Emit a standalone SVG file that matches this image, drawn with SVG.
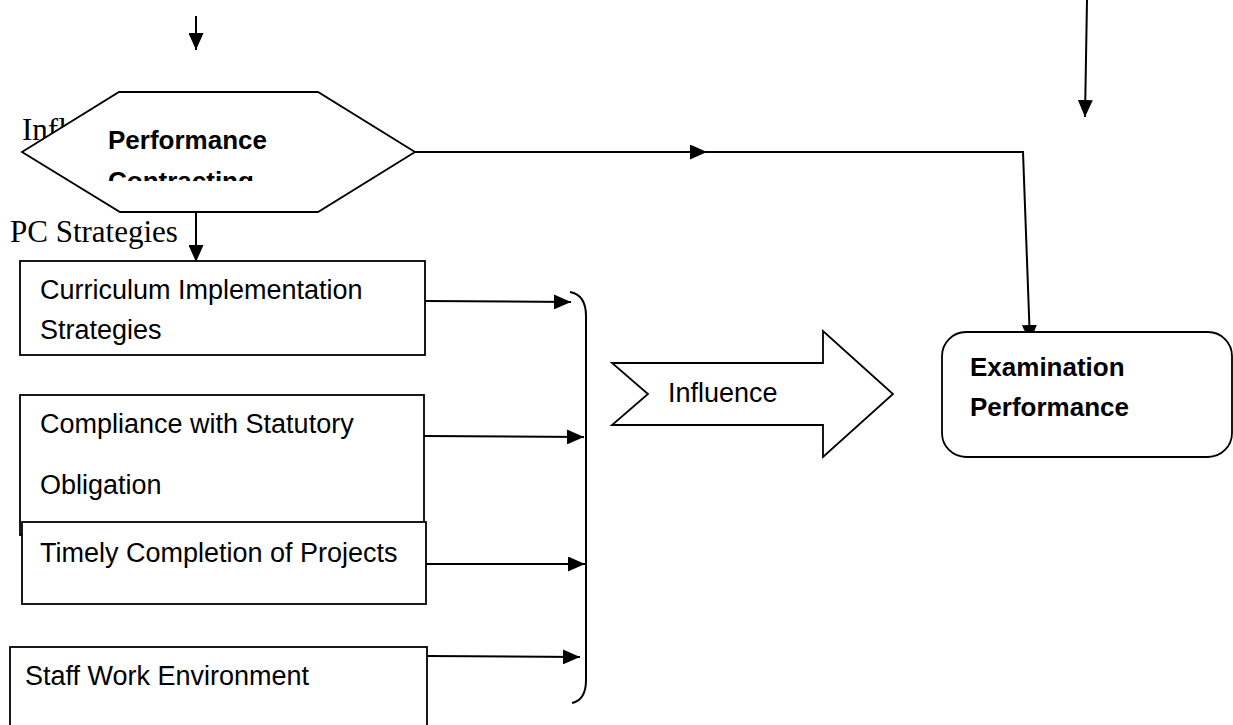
<svg xmlns="http://www.w3.org/2000/svg" width="1233" height="725" viewBox="0 0 1233 725">
<style>
.box{fill:#fff;stroke:#000;stroke-width:1.8}
.ln{fill:none;stroke:#000;stroke-width:2}
.t{font-family:"Liberation Sans",Arial,sans-serif;font-size:27px;fill:#000}
.b{font-family:"Liberation Sans",Arial,sans-serif;font-size:26px;font-weight:bold;fill:#000}
.s{font-family:"Liberation Serif","Times New Roman",serif;font-size:31px;fill:#000}
</style>
<defs>
<marker id="ah" markerUnits="userSpaceOnUse" markerWidth="17" markerHeight="15" refX="17" refY="7.5" orient="auto">
<path d="M0,0 L17,7.5 L0,15 Z" fill="#000"/>
</marker>
<clipPath id="pcClip"><rect x="90" y="100" width="260" height="81"/></clipPath>
</defs>
<rect width="1233" height="725" fill="#fff"/>
<text class="s" x="22" y="140">Infl</text>
<text class="s" x="10" y="242">PC Strategies</text>
<g id="connectors">
<line class="ln" x1="196" y1="16" x2="196" y2="50" marker-end="url(#ah)"/>
<line class="ln" x1="1087" y1="0" x2="1085" y2="117" marker-end="url(#ah)"/>
<line class="ln" x1="196" y1="212" x2="196" y2="262" marker-end="url(#ah)"/>
<line class="ln" x1="415" y1="152" x2="707" y2="152" marker-end="url(#ah)"/>
<polyline class="ln" points="707,152 1023,152 1030,342" marker-end="url(#ah)"/>
<line class="ln" x1="425" y1="301" x2="571" y2="302" marker-end="url(#ah)"/>
<line class="ln" x1="424" y1="436" x2="584" y2="437" marker-end="url(#ah)"/>
<line class="ln" x1="426" y1="564" x2="585" y2="564" marker-end="url(#ah)"/>
<line class="ln" x1="427" y1="656" x2="580" y2="657" marker-end="url(#ah)"/>
<path class="ln" d="M570,292 Q586,295 586,316 L586,680 Q586,700 572,703"/>
</g>
<g id="node-pc">
<polygon class="box" points="22,152 119,92 318,92 415,152 318,212 120,212"/>
<text class="b" x="108" y="149">Performance</text>
<text class="b" x="108" y="190" clip-path="url(#pcClip)">Contracting</text>
</g>
<g id="node-curriculum">
<rect class="box" x="20" y="261" width="405" height="94"/>
<text class="t" x="40" y="299">Curriculum Implementation</text>
<text class="t" x="40" y="339">Strategies</text>
</g>
<g id="node-compliance">
<rect class="box" x="20" y="395" width="404" height="140"/>
<text class="t" x="40" y="433">Compliance with Statutory</text>
<text class="t" x="40" y="494">Obligation</text>
</g>
<g id="node-timely">
<rect class="box" x="22" y="522" width="404" height="82"/>
<text class="t" x="40" y="562">Timely Completion of Projects</text>
</g>
<g id="node-staff">
<rect class="box" x="10" y="647" width="417" height="100"/>
<text class="t" x="25" y="685">Staff Work Environment</text>
</g>
<g id="node-influence">
<polygon class="box" points="612,363 823,363 823,331 893,394 823,457 823,425 612,425 648,394"/>
<text class="t" x="668" y="402">Influence</text>
</g>
<g id="node-exam">
<rect class="box" x="942" y="332" width="290" height="125" rx="24" ry="24"/>
<text class="b" x="970" y="376">Examination</text>
<text class="b" x="970" y="416">Performance</text>
</g>
</svg>
